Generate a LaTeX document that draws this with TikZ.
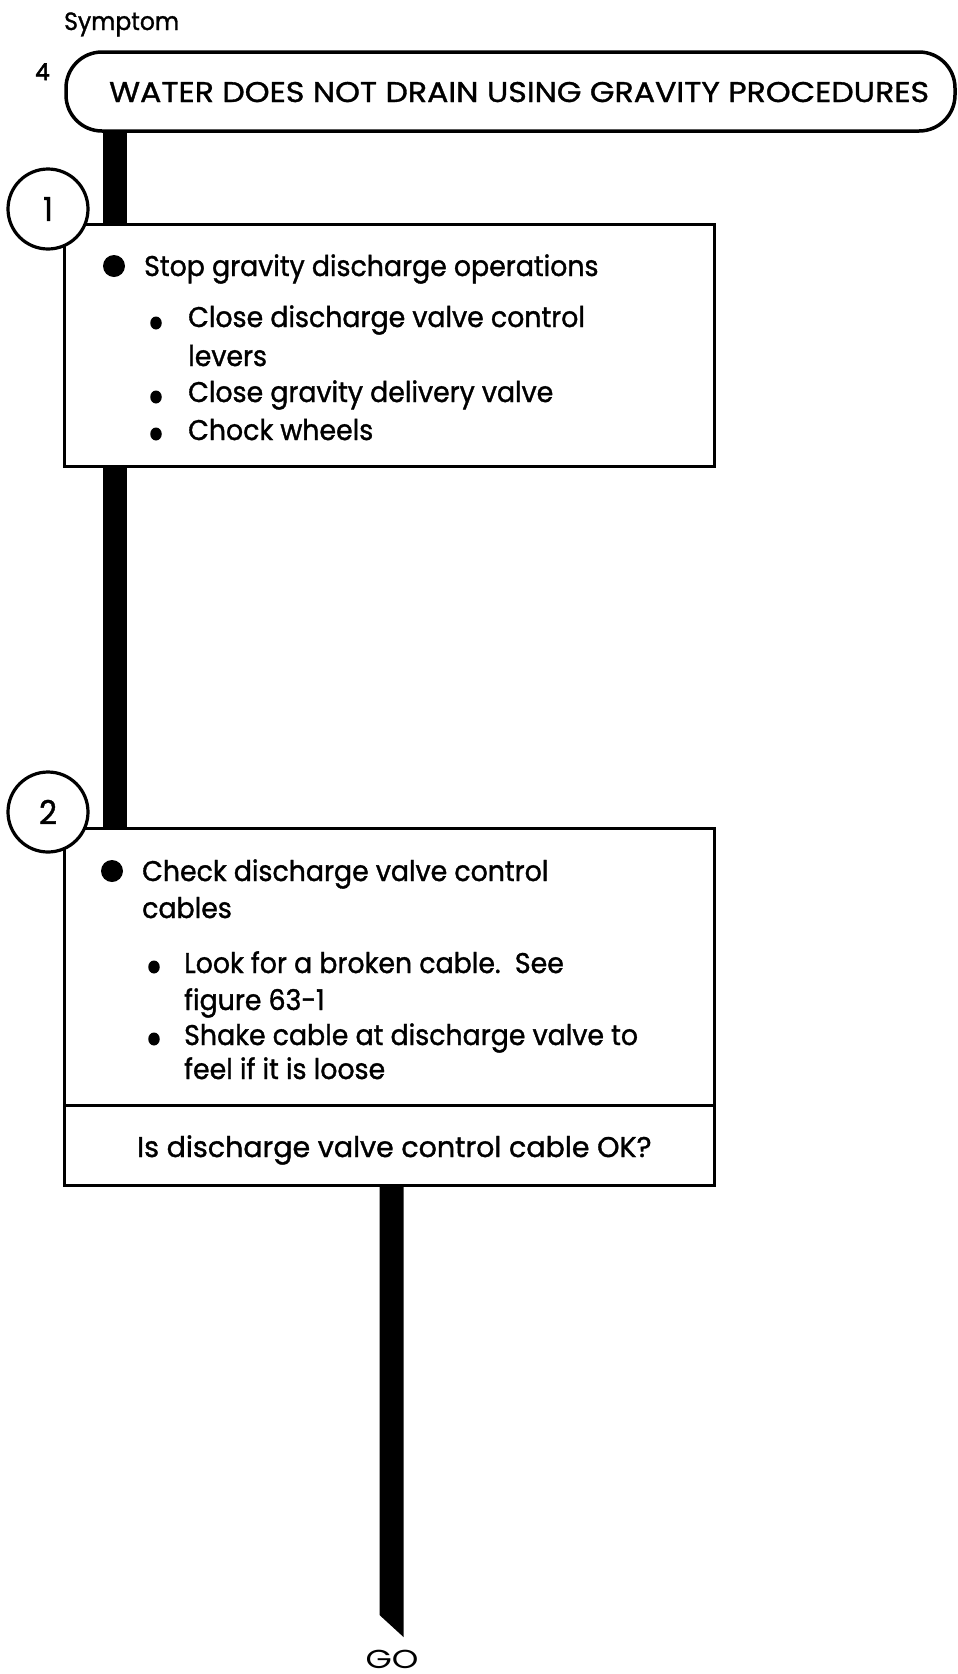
\documentclass[tikz,border=0pt]{standalone}
\usepackage{fontspec}
\usetikzlibrary{shapes.geometric}
\setmainfont{Poppins}[FakeStretch=0.94,FakeBold=1.2]
\newfontfamily\capsfont{Poppins}[FakeStretch=1.11,FakeBold=1.2]
\newfontfamily\qfont{Poppins}[FakeStretch=1.0,FakeBold=1.2]
\newfontfamily\numfont{Poppins}[FakeStretch=1.0,FakeBold=2.5]
\newfontfamily\gofont{Poppins}[FakeStretch=1.3]
\begin{document}
\begin{tikzpicture}[x=1pt,y=-1pt,
  box/.style={draw, line width=3pt, fill=white, inner sep=0pt, outer sep=0pt},
  numc/.style={circle, draw, line width=3.2pt, fill=white, minimum size=80pt, inner sep=0pt, font=\fontsize{33}{36}\selectfont},
  bar/.style={line width=24pt},
  txt/.style={anchor=base west, inner sep=0pt, font=\fontsize{28.5}{32}\selectfont},
  bigdot/.style={circle, fill=black, minimum size=22pt, inner sep=0pt},
  smalldot/.style={ellipse, fill=black, minimum width=11.5pt, minimum height=13pt, inner sep=0pt}
]
\useasboundingbox (0,0) rectangle (958,1674);

% symptom header
\node[txt, font=\fontsize{25}{28}\selectfont] (symlbl) at (64,30) {Symptom};
\node[txt, font=\numfont\fontsize{23}{28}\selectfont] (symnum) at (35,80) {4};
\node[box, line width=3.5pt, rounded corners=36pt, minimum width=889pt, minimum height=79pt] (sym) at (510.5,91.5) {};
\node[txt, font=\capsfont\fontsize{28.5}{32}\selectfont] (symtxt) at (109,102) {WATER DOES NOT DRAIN USING GRAVITY PROCEDURES};

% step boxes
\node[box, minimum width=650pt, minimum height=242pt] (b1) at (389,345) {};
\node[box, minimum width=650pt, minimum height=357pt] (b2) at (389,1006.5) {};
\coordinate (dv) at (0,1105);
\draw[line width=3pt] (b2.west |- dv) -- (b2.east |- dv);

% step numbers
\node[numc] (c1) at (48,209) {1};
\node[numc] (c2) at (48,812) {2};

% box 1 text
\node[bigdot] (d1) at (114,266) {};
\node[txt] (t1) at (144,276) {Stop gravity discharge operations};
\node[smalldot] (d1a) at (156,323) {};
\node[txt] (t1a) at (188,327) {Close discharge valve control};
\node[txt] (t1b) at (188,366) {levers};
\node[smalldot] (d1c) at (156,397) {};
\node[txt] (t1c) at (188,402) {Close gravity delivery valve};
\node[smalldot] (d1d) at (156,434) {};
\node[txt] (t1d) at (188,440) {Chock wheels};

% box 2 text
\node[bigdot] (d2) at (112,871) {};
\node[txt] (t2) at (142,881) {Check discharge valve control};
\node[txt] (t2b) at (142,918) {cables};
\node[smalldot] (d2a) at (154,967) {};
\node[txt] (t2c) at (184,973) {Look for a broken cable.\ \ See};
\node[txt] (t2d) at (184,1010) {figure 63-1};
\node[smalldot] (d2e) at (154,1039) {};
\node[txt] (t2e) at (184,1045) {Shake cable at discharge valve to};
\node[txt] (t2f) at (184,1079) {feel if it is loose};
\node[txt, font=\qfont\fontsize{28.5}{32}\selectfont] (q2) at (137,1157) {Is discharge valve control cable OK?};

% connectors
\coordinate (x1) at (114.5,0);
\draw[bar] (sym.south -| x1) -- (b1.north -| x1);
\draw[bar] (b1.south -| x1) -- (b2.north -| x1);
\coordinate (x3l) at (379.5,0);
\coordinate (x3r) at (403.5,0);
\coordinate (tipR) at (403.5,1637);
\coordinate (tipL) at (379.5,1615);
\fill (b2.south -| x3l) -- (b2.south -| x3r) -- (tipR) -- (tipL) -- cycle;

\node[anchor=base, inner sep=0pt, font=\gofont\fontsize{26}{30}\selectfont] (go) at (392,1668) {GO};
\end{tikzpicture}
\end{document}
